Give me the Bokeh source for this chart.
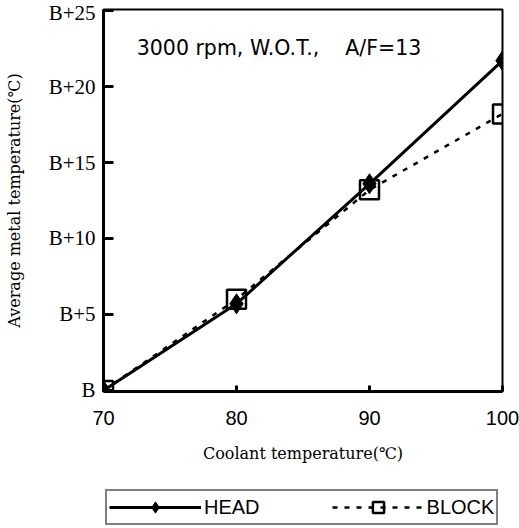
from bokeh.plotting import figure
from bokeh.layouts import column
from bokeh.models import Legend, LegendItem, Label, Range1d, FixedTicker
from bokeh.embed import file_html
from bokeh.resources import INLINE

# data
coolant = [70, 80, 90, 100]
head = [0.0, 5.7, 13.6, 21.7]
block = [0.0, 6.0, 13.2, 18.2]
y_ticks = [0, 5, 10, 15, 20, 25]
y_tick_labels = ["B", "B+5", "B+10", "B+15", "B+20", "B+25"]
x_ticks = [70, 80, 90, 100]
series_names = ["HEAD", "BLOCK"]

HEAD_LINE = dict(line_color="black", line_width=3)
HEAD_MARK = dict(marker="diamond", size=20, line_color="black", fill_color="black")
BLOCK_LINE = dict(line_color="black", line_width=2.5, line_dash="5 7")
BLOCK_MARK = dict(marker="square", size=19, line_color="black", line_width=2.5, fill_alpha=0)

p = figure(frame_width=399, frame_height=382, output_backend="svg", toolbar_location=None,
           x_range=Range1d(70, 100), y_range=Range1d(-0.07, 25.07),
           min_border_left=103, min_border_right=17, min_border_top=9, min_border_bottom=91)
p.background_fill_color = "white"
p.border_fill_color = "white"
p.outline_line_color = "black"
p.outline_line_width = 2
p.xgrid.visible = False
p.ygrid.visible = False

# axes
p.yaxis.ticker = FixedTicker(ticks=y_ticks)
p.yaxis.major_label_overrides = {t: l for t, l in zip(y_ticks, y_tick_labels)}
p.yaxis.minor_tick_line_color = None
p.yaxis.major_tick_in = 10
p.yaxis.major_tick_out = 0
p.yaxis.major_tick_line_width = 3
p.yaxis.axis_line_width = 3
p.yaxis.major_label_text_font = "Liberation Serif"
p.yaxis.major_label_text_font_size = "21px"
p.yaxis.major_label_text_color = "black"
p.yaxis.major_label_standoff = 8
p.yaxis.axis_label = "Average metal temperature(\u2103)"
p.yaxis.axis_label_text_font = "DejaVu Serif"
p.yaxis.axis_label_text_font_style = "normal"
p.yaxis.axis_label_text_font_size = "16px"
p.yaxis.axis_label_text_color = "black"
p.yaxis.axis_label_standoff = 22

p.xaxis.ticker = FixedTicker(ticks=x_ticks)
p.xaxis.minor_tick_line_color = None
p.xaxis.major_tick_in = 6
p.xaxis.major_tick_out = 0
p.xaxis.major_tick_line_width = 3
p.xaxis.axis_line_width = 3
p.xaxis.major_label_text_font = "Liberation Sans"
p.xaxis.major_label_text_font_size = "20px"
p.xaxis.major_label_text_color = "black"
p.xaxis.major_label_standoff = 19
p.xaxis.axis_label = "Coolant temperature(\u2103)"
p.xaxis.axis_label_text_font = "DejaVu Serif"
p.xaxis.axis_label_text_font_style = "normal"
p.xaxis.axis_label_text_font_size = "16px"
p.xaxis.axis_label_text_color = "black"
p.xaxis.axis_label_standoff = 16

# series
p.line(coolant, block, **BLOCK_LINE)
p.scatter(coolant, block, **BLOCK_MARK)
p.line(coolant, head, **HEAD_LINE)
p.scatter(coolant, head, **HEAD_MARK)

p.add_layout(Label(x=72.5, y=23.3, text="3000 rpm, W.O.T.,\u00a0\u00a0\u00a0 A/F=13",
                   text_font="DejaVu Sans", text_font_size="20.5px",
                   text_baseline="top", text_color="black"))

# legend strip below the chart (its renderers hold the same series, outside its view)
p2 = figure(frame_width=415, frame_height=44, output_backend="svg", toolbar_location=None,
            x_range=Range1d(0, 1), y_range=Range1d(0, 1),
            min_border_left=98, min_border_right=6, min_border_top=0, min_border_bottom=0)
p2.axis.visible = False
p2.grid.visible = False
p2.outline_line_color = None
p2.background_fill_color = "white"
p2.border_fill_color = "white"
hl = p2.line(coolant, head, **HEAD_LINE)
hm = p2.scatter(coolant, head, **HEAD_MARK)
bl = p2.line(coolant, block, **BLOCK_LINE)
bm = p2.scatter(coolant, block, **BLOCK_MARK)

legend = Legend(items=[LegendItem(label=series_names[0], renderers=[hl, hm]),
                       LegendItem(label=series_names[1], renderers=[bl, bm])],
                orientation="horizontal", location=(2, 1),
                glyph_width=92, glyph_height=28, label_standoff=3, spacing=72,
                padding=2, margin=0,
                label_text_font="Liberation Sans", label_text_font_size="20px",
                label_text_color="black",
                border_line_color="black", border_line_width=2,
                background_fill_color="white", background_fill_alpha=1)
p2.add_layout(legend)

open("out.html", "w").write(file_html(column(p, p2, spacing=0), INLINE))
